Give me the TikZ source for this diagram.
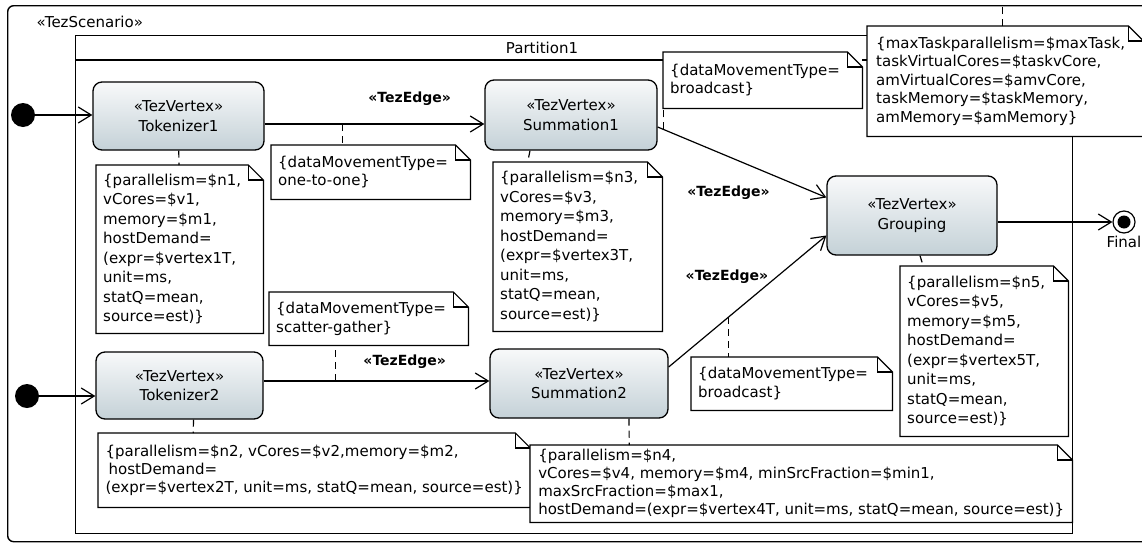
\documentclass[tikz,border=0pt]{standalone}
\usepackage{fontspec}
\setmainfont{DejaVu Sans}
\usetikzlibrary{arrows.meta, positioning, calc}
\definecolor{vtop}{RGB}{248,249,250}
\definecolor{vbot}{RGB}{196,209,215}
\newcommand{\notefold}[1]{%
	\draw[noteline] (#1.south west) -- (#1.north west) -- ([xshift=-15pt]#1.north east)
		-- ([yshift=-15pt]#1.north east) -- (#1.south east) -- cycle;
	\draw[noteline] ([xshift=-15pt]#1.north east) |- ([yshift=-15pt]#1.north east);
}
\tikzset{%
	vertex/.style={draw, rectangle, rounded corners=9pt, line width=1.3pt,%
		top color=vtop, bottom color=vbot, align=center, inner sep=0pt},
	note/.style={anchor=north west, fill=white, align=left, inner sep=0pt},
	notew/.style={note, inner xsep=7pt, text width=#1},
	noteline/.style={line width=1.2pt},
	startdot/.style={circle, fill=black, minimum size=24pt, inner sep=0pt},
	enddot/.style={circle, draw, line width=1.2pt, minimum size=22pt, inner sep=0pt,%
		path picture={\fill (path picture bounding box.center) circle (6.5pt);}},
	flow/.style={line width=1.2pt, -{Straight Barb[length=13pt, width=16pt, line width=1.2pt]}},
	anchorline/.style={line width=1.2pt, dash pattern=on 7pt off 5pt},
	edgelbl/.style={font=\fontsize{14}{17}\selectfont\bfseries, inner sep=1pt},
	frameline/.style={draw, line width=1.4pt}
}

\begin{document}
\begin{tikzpicture}[x=1pt, y=-1pt, font=\fontsize{15}{19.5}\selectfont]
	\useasboundingbox (0,0) rectangle (1142,544);
	\clip (0,0) rectangle (1142,544);

	\node[frameline, rounded corners=6pt, minimum width=1160pt, minimum height=536pt, anchor=north west] (scen) at (7,5) {};
	\node[anchor=west] (scenname) at (33,22) {«TezScenario»};
	\node[frameline, minimum width=997pt, minimum height=498pt, anchor=north west] (part) at (75,35) {};
	\draw[frameline] ([yshift=-25pt]part.north west) -- ([yshift=-25pt]part.north east);
	\node (partname) at (542,48) {Partition1};

	\node[vertex, minimum width=171pt, minimum height=68pt] (tok1) at (178.5,116) {«TezVertex»\\Tokenizer1};
	\node[vertex, minimum width=172pt, minimum height=70pt] (sum1) at (571,115) {«TezVertex»\\Summation1};
	\node[vertex, minimum width=170pt, minimum height=79pt] (grp) at (912,215.5) {«TezVertex»\\Grouping};
	\node[vertex, minimum width=167pt, minimum height=67pt] (tok2) at (179.5,385.5) {«TezVertex»\\Tokenizer2};
	\node[vertex, minimum width=178pt, minimum height=69pt] (sum2) at (579,383.5) {«TezVertex»\\Summation2};

	\node[startdot] (start1) at (23,115) {};
	\node[startdot] (start2) at (27,396) {};
	\node[enddot, label={[name=finalname, inner sep=2pt]below:Final}] (fin) at (1124,222) {};

	\draw[flow] (start1) -- (start1 -| tok1.west);
	\draw[flow] (start2) -- (start2 -| tok2.west);
	\draw[flow] ([yshift=-8pt]tok1.east) -- ([yshift=-8pt]tok1.east -| sum1.west)
		coordinate[pos=0.353] (e1) node[edgelbl, pos=0.66, yshift=25pt] (lbl1) {«TezEdge»};
	\draw[flow] ([yshift=4.5pt]tok2.east) -- ([yshift=4.5pt]tok2.east -| sum2.west)
		coordinate[pos=0.32] (e2) node[edgelbl, pos=0.625, yshift=19pt] (lbl2) {«TezEdge»};
	\draw[flow] ([yshift=-12pt]sum1.east) -- ([yshift=18pt]grp.west)
		coordinate[pos=0.035] (e3) node[edgelbl, pos=0.42, yshift=-36pt] (lbl3) {«TezEdge»};
	\draw[flow] ([yshift=16.5pt]sum2.east) -- ([yshift=-20pt]grp.west)
		coordinate[pos=0.377] (e4) node[edgelbl, pos=0.37, yshift=42pt] (lbl4) {«TezEdge»};
	\draw[flow] (fin -| grp.east) -- (fin);

	\node[notew=153pt, minimum height=168pt] (n1) at (96,165) {\{parallelism=\$n1,\\vCores=\$v1,\\memory=\$m1,\\hostDemand=\\(expr=\$vertex1T,\\unit=ms,\\statQ=mean,\\source=est)\}};
	\notefold{n1}
	\node[notew=155pt, minimum height=169pt] (n3) at (493,162) {\{parallelism=\$n3,\\vCores=\$v3,\\memory=\$m3,\\hostDemand=\\(expr=\$vertex3T,\\unit=ms,\\statQ=mean,\\source=est)\}};
	\notefold{n3}
	\node[notew=154pt, minimum height=170pt] (n5) at (900,266) {\{parallelism=\$n5,\\vCores=\$v5,\\memory=\$m5,\\hostDemand=\\(expr=\$vertex5T,\\unit=ms,\\statQ=mean,\\source=est)\}};
	\notefold{n5}
	\node[note, minimum width=432pt, minimum height=74pt, font=\fontsize{15}{18}\selectfont] (n2) at (98,433) {\{parallelism=\$n2, vCores=\$v2,memory=\$m2,\\\hspace*{3pt}hostDemand=\\(expr=\$vertex2T, unit=ms, statQ=mean, source=est)\}};
	\notefold{n2}
	\node[note, minimum width=542pt, minimum height=77pt, font=\fontsize{15}{18}\selectfont] (n4) at (530,445) {\{parallelism=\$n4,\\vCores=\$v4, memory=\$m4, minSrcFraction=\$min1,\\maxSrcFraction=\$max1,\\hostDemand=(expr=\$vertex4T, unit=ms, statQ=mean, source=est)\}};
	\notefold{n4}

	\node[notew=185pt, minimum height=54pt, font=\fontsize{15}{18.5}\selectfont] (oto) at (271,145) {\{dataMovementType=\\one-to-one\}};
	\notefold{oto}
	\node[notew=185pt, minimum height=53pt, font=\fontsize{15}{18.5}\selectfont] (sg) at (269,292) {\{dataMovementType=\\scatter-gather\}};
	\notefold{sg}
	\node[notew=185pt, minimum height=56pt, font=\fontsize{15}{18.5}\selectfont] (bc1) at (663,52) {\{dataMovementType=\\broadcast\}};
	\notefold{bc1}
	\node[notew=187pt, minimum height=53pt, font=\fontsize{15}{18.5}\selectfont] (bc2) at (691,357) {\{dataMovementType=\\broadcast\}};
	\notefold{bc2}
	\node[notew=258pt, inner xsep=9pt, minimum height=110pt, font=\fontsize{15}{18.5}\selectfont] (big) at (867,26) {\{maxTaskparallelism=\$maxTask,\\taskVirtualCores=\$taskvCore,\\amVirtualCores=\$amvCore,\\taskMemory=\$taskMemory,\\amMemory=\$amMemory\}};
	\notefold{big}

	\draw[anchorline] (tok1) -- (n1);
	\draw[anchorline] ([xshift=-41pt]sum1.south) -- ([xshift=-50pt]n3.north);
	\draw[anchorline] ([xshift=8pt]grp.south) -- ([xshift=-61pt]n5.north);
	\draw[anchorline] ([xshift=14pt]tok2.south) -- ([xshift=-121pt]n2.north);
	\draw[anchorline] ([xshift=50pt]sum2.south) -- ([xshift=-172pt]n4.north);
	\draw[anchorline] (e1) -- (e1 |- oto.north);
	\draw[anchorline] (e2) -- (e2 |- sg.south);
	\draw[anchorline] (e3) -- (e3 |- bc1.south);
	\draw[anchorline] (e4) -- (e4 |- bc2.north);
	\draw[anchorline] ([xshift=-3pt]big.north) -- ([xshift=-3pt]big.north |- scen.north);
\end{tikzpicture}
\end{document}
